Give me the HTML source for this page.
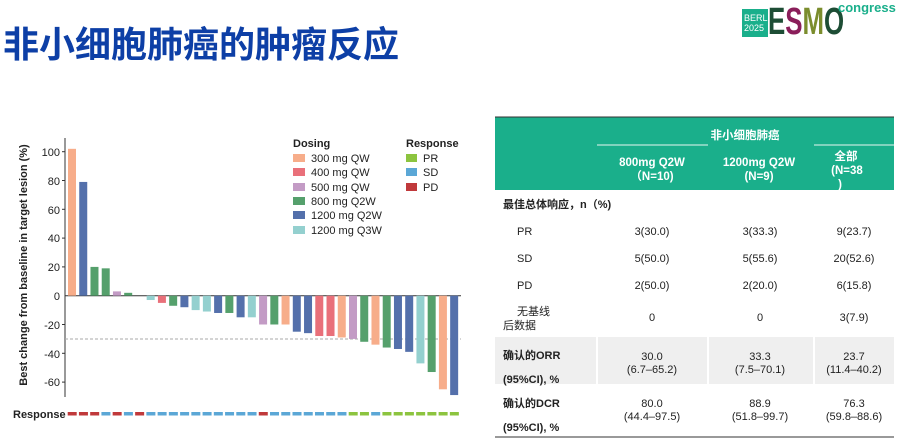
<!DOCTYPE html>
<html><head><meta charset="utf-8"><style>
body{margin:0;width:897px;height:439px;background:#fff;overflow:hidden;position:relative;font-family:"Liberation Sans","Noto Sans CJK SC",sans-serif}
.t{position:absolute;left:3px;top:16px;font-size:36px;font-weight:bold;color:#0d3fa6;letter-spacing:0px;font-family:"Noto Sans CJK SC",sans-serif}
.ab{position:absolute}
</style></head><body>
<div class="t">非小细胞肺癌的肿瘤反应</div>
<div class="ab" style="left:742px;top:9px;width:26px;height:28px;background:#1aaf8b;color:#fff;font-size:9px;line-height:10px;padding:4px 0 0 2px;box-sizing:border-box;overflow:hidden;white-space:nowrap">BERLIN<br>2025</div>
<div class="ab" style="left:768px;top:3px;font-size:38px;font-weight:bold;line-height:38px;transform:scaleX(0.68);transform-origin:left top;white-space:nowrap"><span style="color:#1d4d35">E</span><span style="color:#8a1e5a">S</span><span style="color:#7b8d2d">M</span><span style="color:#1d4d35">O</span></div>
<div class="ab" style="left:838px;top:0px;font-size:13px;font-weight:bold;color:#1aaf8b;line-height:15px">congress</div>

<svg class="ab" style="left:0;top:0" width="480" height="439">
<g font-family="Liberation Sans,sans-serif" font-size="11" fill="#222">
<line x1="65" y1="138" x2="65" y2="397" stroke="#333" stroke-width="1"/>
<line x1="65" y1="295.7" x2="461" y2="295.7" stroke="#333" stroke-width="1"/>
<line x1="65" y1="339" x2="461" y2="339" stroke="#aaa" stroke-dasharray="3,2"/>
<g text-anchor="end">
<text x="60" y="156">100</text><text x="60" y="185">80</text><text x="60" y="214">60</text><text x="60" y="242">40</text><text x="60" y="271">20</text><text x="60" y="300">0</text><text x="60" y="329">-20</text><text x="60" y="358">-40</text><text x="60" y="386">-60</text>
</g>
<g stroke="#333"><line x1="62" y1="151.7" x2="65" y2="151.7"/><line x1="62" y1="180.5" x2="65" y2="180.5"/><line x1="62" y1="209.3" x2="65" y2="209.3"/><line x1="62" y1="238.1" x2="65" y2="238.1"/><line x1="62" y1="266.9" x2="65" y2="266.9"/><line x1="62" y1="324.5" x2="65" y2="324.5"/><line x1="62" y1="353.3" x2="65" y2="353.3"/><line x1="62" y1="382.1" x2="65" y2="382.1"/></g>
<text transform="translate(27,265) rotate(-90)" text-anchor="middle" font-weight="bold" font-size="11">Best change from baseline in target lesion (%)</text>
<g transform="translate(68,295.7) scale(1,-1.44)">
<rect x="0" y="0" width="8" height="102" fill="#f7ad8a"/>
<rect x="11.24" y="0" width="8" height="79" fill="#5470ab"/>
<rect x="22.48" y="0" width="8" height="20" fill="#55a06c"/>
<rect x="33.72" y="0" width="8" height="19" fill="#55a06c"/>
<rect x="44.96" y="0" width="8" height="3" fill="#c39bc5"/>
<rect x="56.2" y="0" width="8" height="2" fill="#55a06c"/>
<rect x="78.68" y="-3" width="8" height="3" fill="#94d0cf"/>
<rect x="89.92" y="-5" width="8" height="5" fill="#e9707a"/>
<rect x="101.16" y="-7" width="8" height="7" fill="#55a06c"/>
<rect x="112.4" y="-8" width="8" height="8" fill="#5470ab"/>
<rect x="123.64" y="-10" width="8" height="10" fill="#94d0cf"/>
<rect x="134.88" y="-11" width="8" height="11" fill="#94d0cf"/>
<rect x="146.12" y="-12" width="8" height="12" fill="#5470ab"/>
<rect x="157.36" y="-12" width="8" height="12" fill="#55a06c"/>
<rect x="168.6" y="-15" width="8" height="15" fill="#5470ab"/>
<rect x="179.84" y="-15" width="8" height="15" fill="#94d0cf"/>
<rect x="191.08" y="-20" width="8" height="20" fill="#c39bc5"/>
<rect x="202.32" y="-20" width="8" height="20" fill="#55a06c"/>
<rect x="213.56" y="-20" width="8" height="20" fill="#f7ad8a"/>
<rect x="224.8" y="-25" width="8" height="25" fill="#5470ab"/>
<rect x="236.04" y="-26" width="8" height="26" fill="#5470ab"/>
<rect x="247.28" y="-28" width="8" height="28" fill="#e9707a"/>
<rect x="258.52" y="-28" width="8" height="28" fill="#e9707a"/>
<rect x="269.76" y="-29" width="8" height="29" fill="#f7ad8a"/>
<rect x="281" y="-30" width="8" height="30" fill="#c39bc5"/>
<rect x="292.24" y="-32" width="8" height="32" fill="#55a06c"/>
<rect x="303.48" y="-34" width="8" height="34" fill="#f7ad8a"/>
<rect x="314.72" y="-36" width="8" height="36" fill="#55a06c"/>
<rect x="325.96" y="-37" width="8" height="37" fill="#5470ab"/>
<rect x="337.2" y="-39" width="8" height="39" fill="#5470ab"/>
<rect x="348.44" y="-47" width="8" height="47" fill="#94d0cf"/>
<rect x="359.68" y="-53" width="8" height="53" fill="#55a06c"/>
<rect x="370.92" y="-65" width="8" height="65" fill="#f7ad8a"/>
<rect x="382.16" y="-69" width="8" height="69" fill="#5470ab"/>
</g>
<text x="293" y="147" font-weight="bold" font-size="11">Dosing</text>
<rect x="293" y="154" width="12" height="8" fill="#f7ad8a"/><text x="311" y="162">300 mg QW</text>
<rect x="293" y="168" width="12" height="8" fill="#e9707a"/><text x="311" y="176">400 mg QW</text>
<rect x="293" y="183" width="12" height="8" fill="#c39bc5"/><text x="311" y="191">500 mg QW</text>
<rect x="293" y="197" width="12" height="8" fill="#55a06c"/><text x="311" y="205">800 mg Q2W</text>
<rect x="293" y="211" width="12" height="8" fill="#5470ab"/><text x="311" y="219">1200 mg Q2W</text>
<rect x="293" y="226" width="12" height="8" fill="#94d0cf"/><text x="311" y="234">1200 mg Q3W</text>
<text x="406" y="147" font-weight="bold" font-size="11">Response</text>
<rect x="406" y="154" width="11" height="8" fill="#8cc43f"/><text x="423" y="162">PR</text>
<rect x="406" y="168" width="11" height="8" fill="#5ba7d6"/><text x="423" y="176">SD</text>
<rect x="406" y="183" width="11" height="8" fill="#c0393b"/><text x="423" y="191">PD</text>
<text x="13" y="418" font-weight="bold" font-size="11">Response</text>
<g transform="translate(67.7,412)">
<rect x="0" width="9" height="3.5" fill="#c0393b"/><rect x="11.24" width="9" height="3.5" fill="#c0393b"/><rect x="22.48" width="9" height="3.5" fill="#c0393b"/><rect x="33.72" width="9" height="3.5" fill="#5ba7d6"/><rect x="44.96" width="9" height="3.5" fill="#c0393b"/><rect x="56.2" width="9" height="3.5" fill="#5ba7d6"/><rect x="67.44" width="9" height="3.5" fill="#c0393b"/><rect x="78.68" width="9" height="3.5" fill="#5ba7d6"/><rect x="89.92" width="9" height="3.5" fill="#5ba7d6"/><rect x="101.16" width="9" height="3.5" fill="#5ba7d6"/><rect x="112.4" width="9" height="3.5" fill="#5ba7d6"/><rect x="123.64" width="9" height="3.5" fill="#5ba7d6"/><rect x="134.88" width="9" height="3.5" fill="#5ba7d6"/><rect x="146.12" width="9" height="3.5" fill="#5ba7d6"/><rect x="157.36" width="9" height="3.5" fill="#5ba7d6"/><rect x="168.6" width="9" height="3.5" fill="#5ba7d6"/><rect x="179.84" width="9" height="3.5" fill="#5ba7d6"/><rect x="191.08" width="9" height="3.5" fill="#c0393b"/><rect x="202.32" width="9" height="3.5" fill="#5ba7d6"/><rect x="213.56" width="9" height="3.5" fill="#5ba7d6"/><rect x="224.8" width="9" height="3.5" fill="#5ba7d6"/><rect x="236.04" width="9" height="3.5" fill="#5ba7d6"/><rect x="247.28" width="9" height="3.5" fill="#5ba7d6"/><rect x="258.52" width="9" height="3.5" fill="#5ba7d6"/><rect x="269.76" width="9" height="3.5" fill="#5ba7d6"/><rect x="281" width="9" height="3.5" fill="#8cc43f"/><rect x="292.24" width="9" height="3.5" fill="#8cc43f"/><rect x="303.48" width="9" height="3.5" fill="#5ba7d6"/><rect x="314.72" width="9" height="3.5" fill="#8cc43f"/><rect x="325.96" width="9" height="3.5" fill="#8cc43f"/><rect x="337.2" width="9" height="3.5" fill="#8cc43f"/><rect x="348.44" width="9" height="3.5" fill="#8cc43f"/><rect x="359.68" width="9" height="3.5" fill="#8cc43f"/><rect x="370.92" width="9" height="3.5" fill="#8cc43f"/><rect x="382.16" width="9" height="3.5" fill="#8cc43f"/>
</g>
</g>
</svg>

<svg class="ab" style="left:495px;top:115px" width="402" height="324" font-family="Liberation Sans,Noto Sans CJK SC,sans-serif" font-size="11" fill="#222">
<rect x="0" y="2" width="399" height="73" fill="#1aaf8b"/>
<line x1="0" y1="2" x2="399" y2="2" stroke="#333"/>
<line x1="102" y1="30" x2="213" y2="30" stroke="#e8f7f2" stroke-width="1"/>
<line x1="319" y1="30" x2="399" y2="30" stroke="#e8f7f2" stroke-width="1"/>
<g fill="#fff" font-weight="bold" text-anchor="middle" font-size="11.5">
<text x="250" y="24">非小细胞肺癌</text>
<text x="157" y="51">800mg Q2W</text><text x="157" y="65">（N=10)</text>
<text x="264" y="51">1200mg Q2W</text><text x="264" y="65">(N=9)</text>
<text x="351" y="45">全部</text><text x="352" y="59">(N=38</text><text x="345" y="73">)</text>
</g>
<text x="8" y="93" font-weight="bold">最佳总体响应，n（%)</text>
<text x="22" y="120">PR</text><text x="22" y="147">SD</text><text x="22" y="174">PD</text>
<text x="22" y="200">无基线</text><text x="8" y="214">后数据</text>
<g text-anchor="middle">
<text x="157" y="120">3(30.0)</text><text x="265" y="120">3(33.3)</text><text x="359" y="120">9(23.7)</text>
<text x="157" y="147">5(50.0)</text><text x="265" y="147">5(55.6)</text><text x="359" y="147">20(52.6)</text>
<text x="157" y="174">2(50.0)</text><text x="265" y="174">2(20.0)</text><text x="359" y="174">6(15.8)</text>
<text x="157" y="206">0</text><text x="265" y="206">0</text><text x="359" y="206">3(7.9)</text>
</g>
<rect x="0" y="222" width="399" height="48" fill="#efefef"/>
<g stroke="#fff" stroke-width="2"><line x1="102" y1="222" x2="102" y2="324"/><line x1="213" y1="222" x2="213" y2="324"/><line x1="319" y1="222" x2="319" y2="324"/><line x1="0" y1="270" x2="399" y2="270"/></g>
<text x="8" y="244" font-weight="bold">确认的ORR</text><text x="8" y="268" font-weight="bold">(95%CI), %</text>
<text x="8" y="292" font-weight="bold">确认的DCR</text><text x="8" y="316" font-weight="bold">(95%CI), %</text>
<g text-anchor="middle">
<text x="157" y="245">30.0</text><text x="157" y="258">(6.7–65.2)</text>
<text x="265" y="245">33.3</text><text x="265" y="258">(7.5–70.1)</text>
<text x="359" y="245">23.7</text><text x="359" y="258">(11.4–40.2)</text>
<text x="157" y="292">80.0</text><text x="157" y="305">(44.4–97.5)</text>
<text x="265" y="292">88.9</text><text x="265" y="305">(51.8–99.7)</text>
<text x="359" y="292">76.3</text><text x="359" y="305">(59.8–88.6)</text>
</g>
<line x1="0" y1="322" x2="399" y2="322" stroke="#333"/>
</svg>
</body></html>
